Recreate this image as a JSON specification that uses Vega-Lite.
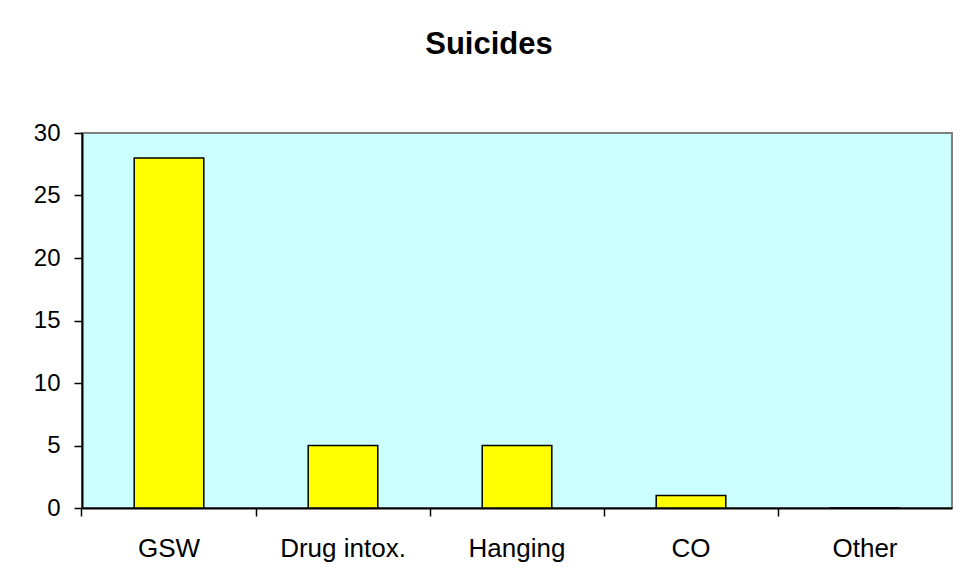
{
  "$schema": "https://vega.github.io/schema/vega-lite/v6.json",
  "width": 870,
  "height": 375,
  "autosize": {"type": "none"},
  "padding": {"left": 82, "top": 133, "right": 6, "bottom": 77},
  "background": "white",
  "title": {
    "text": "Suicides",
    "font": "Liberation Sans",
    "fontSize": 31,
    "fontWeight": "bold",
    "color": "black",
    "anchor": "middle",
    "frame": "group",
    "baseline": "alphabetic",
    "offset": 36,
    "dx": -28
  },
  "data": {
    "values": [
      {"method": "GSW", "count": 28},
      {"method": "Drug intox.", "count": 5},
      {"method": "Hanging", "count": 5},
      {"method": "CO", "count": 1},
      {"method": "Other", "count": 0}
    ]
  },
  "mark": {"type": "bar", "color": "#FFFF00", "stroke": "black", "strokeWidth": 1.5},
  "encoding": {
    "x": {
      "field": "method",
      "type": "nominal",
      "sort": null,
      "scale": {"paddingInner": 0.6, "paddingOuter": 0.3},
      "axis": {
        "title": null,
        "labelAngle": 0,
        "labelFont": "Liberation Sans",
        "labelFontSize": 26,
        "labelColor": "black",
        "labelPadding": 19,
        "domainColor": "black",
        "domainWidth": 2,
        "tickColor": "black",
        "tickWidth": 1.5,
        "tickSize": 8,
        "bandPosition": -0.75
      }
    },
    "y": {
      "field": "count",
      "type": "quantitative",
      "scale": {"domain": [0, 30], "nice": false},
      "axis": {
        "title": null,
        "values": [0, 5, 10, 15, 20, 25, 30],
        "grid": false,
        "labelFont": "Liberation Sans",
        "labelFontSize": 24,
        "labelColor": "black",
        "labelPadding": 14,
        "domainColor": "black",
        "domainWidth": 2,
        "tickColor": "black",
        "tickWidth": 1.5,
        "tickSize": 8
      }
    }
  },
  "config": {
    "view": {"fill": "#CCFFFF", "stroke": "#808080", "strokeWidth": 2}
  }
}
